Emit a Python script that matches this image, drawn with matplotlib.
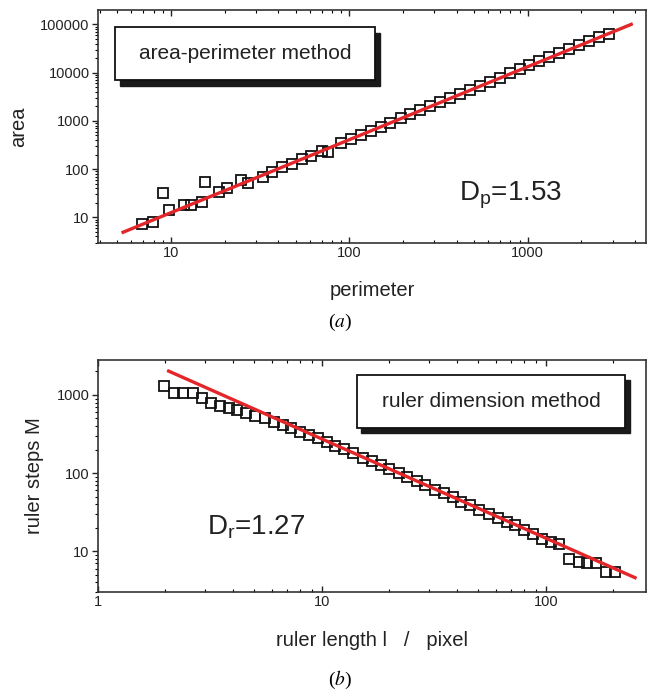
import matplotlib
matplotlib.use("Agg")
import matplotlib.pyplot as plt
from matplotlib.patches import Rectangle
from matplotlib.ticker import LogLocator, NullFormatter, FixedLocator, FixedFormatter

plt.rcParams['font.family'] = ['Liberation Sans', 'DejaVu Sans']
plt.rcParams['mathtext.fontset'] = 'stix'

# ---------------- data: panel (a) ----------------
perimeter = [6.9, 7.9, 9.0, 9.8, 11.8, 12.9, 15.0, 15.6, 18.5, 20.6, 24.8, 26.9,
             33, 37, 42, 48, 54, 61, 70, 76, 90, 102, 116, 132, 150, 170, 194,
             220, 250, 284, 323, 367, 417, 474, 539, 612, 696, 791, 899, 1022,
             1162, 1320, 1500, 1706, 1939, 2204, 2505, 2850]
area = [7.1, 8.0, 32, 14, 18, 18, 21, 54, 34, 41, 58, 52,
        70, 88, 108, 130, 160, 190, 232, 225, 345, 420, 510, 625, 760, 915, 1120,
        1360, 1650, 2000, 2450, 2980, 3620, 4400, 5350, 6500, 7900, 9600, 11700, 14200,
        17300, 21000, 25500, 31000, 37500, 45500, 55000, 63000]
fit_a_x = [5.4, 3800]
fit_a_y = [4.9, 100000]
a_xticks = [10, 100, 1000]
a_xticklabels = ['10', '100', '1000']
a_yticks = [10, 100, 1000, 10000, 100000]
a_yticklabels = ['10', '100', '1000', '10000', '100000']

# ---------------- data: panel (b) ----------------
ruler = [1.98, 2.19, 2.41, 2.67, 2.92, 3.2, 3.5, 3.85, 4.2, 4.6, 5.05, 5.55, 6.1,
         6.7, 7.3, 8.0, 8.8, 9.6, 10.5, 11.5, 12.6, 13.8, 15.2, 16.7, 18.3, 20,
         22, 24, 26.5, 29, 32, 35, 38.5, 42, 46, 50.5, 55.5, 61, 67, 73, 80, 88,
         96, 105, 114, 127, 140, 152, 167, 185, 203]
steps = [1300, 1060, 1060, 1060, 920, 800, 730, 680, 640, 590, 540, 500, 455,
         415, 380, 340, 305, 280, 252, 225, 202, 180, 158, 141, 127, 113,
         101, 88, 79, 70, 61, 55, 49, 43, 39, 34, 30, 27, 24, 21.5, 19, 16.5,
         14.5, 13, 12.5, 7.9, 7.2, 7.0, 7.0, 5.5, 5.5]
fit_b_x = [2.07, 250]
fit_b_y = [2020, 4.6]
b_xticks = [1, 10, 100]
b_xticklabels = ['1', '10', '100']
b_yticks = [10, 100, 1000]
b_yticklabels = ['10', '100', '1000']

RED = '#e3262a'

fig = plt.figure(figsize=(6.48, 6.91), dpi=100)
ax_a = fig.add_axes([0.151, 0.648, 0.846, 0.337])
ax_b = fig.add_axes([0.151, 0.143, 0.846, 0.336])


def style(ax, xt, xtl, yt, ytl):
    ax.set_xscale('log')
    ax.set_yscale('log')
    ax.xaxis.set_major_locator(FixedLocator(xt))
    ax.xaxis.set_major_formatter(FixedFormatter(xtl))
    ax.yaxis.set_major_locator(FixedLocator(yt))
    ax.yaxis.set_major_formatter(FixedFormatter(ytl))
    ax.xaxis.set_minor_locator(LogLocator(base=10, subs=range(2, 10), numticks=20))
    ax.yaxis.set_minor_locator(LogLocator(base=10, subs=range(2, 10), numticks=20))
    ax.xaxis.set_minor_formatter(NullFormatter())
    ax.yaxis.set_minor_formatter(NullFormatter())
    ax.tick_params(which='major', direction='out', length=4, width=1.0,
                   labelsize=10.5, colors='#222222', pad=2,
                   top=True, right=False)
    ax.tick_params(which='minor', direction='out', length=2, width=0.8,
                   top=True, right=False)
    ax.tick_params(axis='x', which='both', top=True, direction='in')
    ax.tick_params(axis='x', which='both', bottom=True)
    for s in ax.spines.values():
        s.set_linewidth(1.2)
        s.set_color('#333333')


def shadow_box(ax, x0, y0, x1, y1, dx, dy, text, fs):
    ax.add_patch(Rectangle((x0 + dx, y0 - dy), x1 - x0, y1 - y0,
                           transform=ax.transAxes, facecolor='#1a1a1a',
                           edgecolor='#1a1a1a', lw=1, zorder=4))
    ax.add_patch(Rectangle((x0, y0), x1 - x0, y1 - y0,
                           transform=ax.transAxes, facecolor='white',
                           edgecolor='#111111', lw=1.3, zorder=5))
    ax.text((x0 + x1) / 2, (y0 + y1) / 2, text, transform=ax.transAxes,
            ha='center', va='center', fontsize=fs, color='#222222', zorder=6)


# ---- panel a ----
ax_a.plot(perimeter, area, linestyle='none', marker='s', markersize=7.2,
          markerfacecolor='none', markeredgecolor='#111111', markeredgewidth=1.3,
          zorder=2)
ax_a.plot(fit_a_x, fit_a_y, color=RED, lw=2.4, zorder=3)
ax_a.set_xlim(3.9, 4600)
ax_a.set_ylim(2.9, 1.95e5)
style(ax_a, a_xticks, a_xticklabels, a_yticks, a_yticklabels)
ax_a.set_xlabel('perimeter', fontsize=14.5, color='#222222', labelpad=15)
ax_a.set_ylabel('area', fontsize=14.5, color='#222222', labelpad=9)
shadow_box(ax_a, 0.031, 0.700, 0.506, 0.927, 0.009, 0.026,
           'area-perimeter method', 15)
ax_a.text(0.658, 0.205, r'D$\mathregular{_p}$=1.53', transform=ax_a.transAxes,
          ha='left', va='center', fontsize=20, color='#222222')

# ---- panel b ----
ax_b.plot(ruler, steps, linestyle='none', marker='s', markersize=7.2,
          markerfacecolor='none', markeredgecolor='#111111', markeredgewidth=1.3,
          zorder=2)
ax_b.plot(fit_b_x, fit_b_y, color=RED, lw=2.4, zorder=3)
ax_b.set_xlim(1, 280)
ax_b.set_ylim(3.0, 2800)
style(ax_b, b_xticks, b_xticklabels, b_yticks, b_yticklabels)
ax_b.set_xlabel('ruler length l   /   pixel', fontsize=14.5, color='#222222',
                labelpad=16)
ax_b.set_ylabel('ruler steps M', fontsize=14.5, color='#222222', labelpad=9)
shadow_box(ax_b, 0.472, 0.707, 0.962, 0.935, 0.008, 0.022,
           'ruler dimension method', 15)
ax_b.text(0.199, 0.28, r'D$\mathregular{_r}$=1.27', transform=ax_b.transAxes,
          ha='left', va='center', fontsize=20, color='#222222')

# captions
fig.text(0.525, 0.534, r'($\mathit{a}$)', ha='center', va='center',
         fontsize=14, family='Liberation Serif')
fig.text(0.525, 0.016, r'($\mathit{b}$)', ha='center', va='center',
         fontsize=14, family='Liberation Serif')

fig.savefig('out.png', dpi=100)
